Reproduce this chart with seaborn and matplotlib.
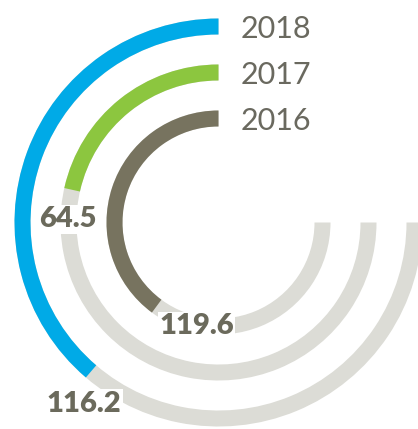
import numpy as np
import pandas as pd
import matplotlib
matplotlib.use("Agg")
import matplotlib.pyplot as plt
import seaborn as sns

# ---- data -------------------------------------------------------------
years = ["2016", "2017", "2018"]          # inner ring -> outer ring
values = [119.6, 64.5, 116.2]
track_max = 225.0                          # gray track length (3/4 turn)
full_turn = 300.0                          # value that would close a full circle
ring_colors = ["#77735f", "#8cc63f", "#00aae7"]
track_color = "#dcdcd6"
value_color = "#6b6a5c"
year_color = "#6a695f"

# ---- label layout (polar positions: degrees counter-clockwise from top, ring units)
label_theta_deg = [168.0, 88.7, 143.4]
label_radius = [0.04, 1.01, 2.65]

sns.set_theme(style="white")
plt.rcParams["font.family"] = ["Lato", "DejaVu Sans"]

W, H, DPI = 418, 429, 100
fig = plt.figure(figsize=(W / DPI, H / DPI), dpi=DPI)
fig.patch.set_facecolor("white")

# polar axes geometry in pixels
ring_px = 46.0           # distance between ring centers
inner_px = 104.0         # radius of innermost ring center
cx, cy = 218.5, H - 222.5
r_origin = -inner_px / ring_px
r_max = 2.6
S = (r_max - r_origin) * ring_px
ax = fig.add_axes([(cx - S) / W, (cy - S) / H, 2 * S / W, 2 * S / H],
                  projection="polar")
ax.set_theta_zero_location("N")
ax.set_theta_direction(1)

to_rad = 2 * np.pi / full_turn
df = pd.DataFrame({
    "year": years,
    "value": values,
    "theta": np.array(values) * to_rad,
    "track": np.full(len(years), track_max) * to_rad,
})

bar_width = 16.0 / ring_px

# gray background tracks
sns.barplot(data=df, x="track", y="year", order=years, orient="y",
            color=track_color, width=bar_width, errorbar=None,
            linewidth=0, edgecolor="none", saturation=1, ax=ax)
# value arcs
sns.barplot(data=df, x="theta", y="year", order=years, orient="y",
            hue="year", hue_order=years, palette=ring_colors, legend=False,
            width=bar_width, errorbar=None, linewidth=0, edgecolor="none",
            saturation=1, ax=ax)

ax.set_rorigin(r_origin)
ax.set_ylim(-0.5, r_max)
ax.set_xlim(0, 2 * np.pi)
ax.set_axis_off()

# year names at the start of each ring
for i, yr in enumerate(years):
    ax.annotate(yr, xy=(0, i), xytext=(22, 0), textcoords="offset pixels",
                ha="left", va="center_baseline", fontsize=22,
                fontweight="normal", color=year_color, annotation_clip=False)

# value labels near the end of each arc
for i, v in enumerate(values):
    ax.text(np.deg2rad(label_theta_deg[i]), label_radius[i], f"{v:.1f}",
            ha="center", va="center", fontsize=21, fontweight="heavy",
            color=value_color, zorder=5,
            bbox=dict(facecolor="white", edgecolor="none", pad=1.0))

fig.savefig("out.png", dpi=DPI, facecolor="white")
